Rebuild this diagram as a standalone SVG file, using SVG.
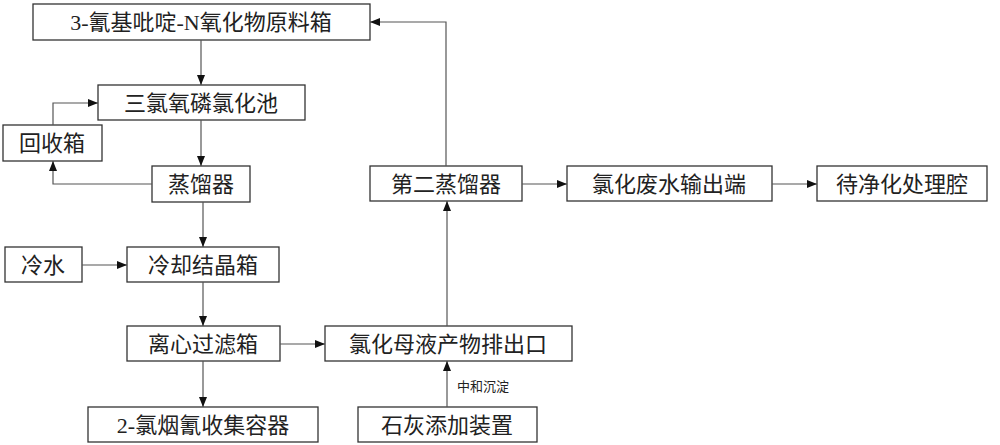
<svg xmlns="http://www.w3.org/2000/svg" width="1000" height="445" viewBox="0 0 1000 445">
<style>
.b{fill:#fff;stroke:#333;stroke-width:1.3}
.t{font-family:"Liberation Serif","Noto Sans CJK SC",serif;font-size:22px;fill:#222;text-anchor:middle;dominant-baseline:central}
.s{font-family:"Noto Sans CJK SC",sans-serif;font-size:13px;fill:#222}
.c{fill:none;stroke:#555;stroke-width:1.2;marker-end:url(#a)}
</style>
<defs><marker id="a" markerWidth="10" markerHeight="8" refX="10" refY="4" orient="auto" markerUnits="userSpaceOnUse"><path d="M0,0L10,4L0,8z" fill="#111"/></marker></defs>
<rect width="1000" height="445" fill="#fff"/>
<g id="n1"><rect class="b" x="33" y="4" width="337" height="36"/><text class="t" x="201" y="22">3-氰基吡啶-N氧化物原料箱</text></g>
<g id="n2"><rect class="b" x="98" y="85" width="207" height="35"/><text class="t" x="201" y="103">三氯氧磷氯化池</text></g>
<g id="n3"><rect class="b" x="3" y="125" width="99" height="36"/><text class="t" x="52" y="143">回收箱</text></g>
<g id="n4"><rect class="b" x="152" y="166" width="98" height="36"/><text class="t" x="201" y="184">蒸馏器</text></g>
<g id="n5"><rect class="b" x="5" y="247" width="77" height="35"/><text class="t" x="43" y="265">冷水</text></g>
<g id="n6"><rect class="b" x="127" y="247" width="152" height="35"/><text class="t" x="203" y="265">冷却结晶箱</text></g>
<g id="n7"><rect class="b" x="127" y="326" width="153" height="35"/><text class="t" x="203" y="344">离心过滤箱</text></g>
<g id="n8"><rect class="b" x="88" y="407" width="230" height="35"/><text class="t" x="203" y="425">2-氯烟氰收集容器</text></g>
<g id="n9"><rect class="b" x="325" y="326" width="247" height="35"/><text class="t" x="448" y="344">氯化母液产物排出口</text></g>
<g id="n10"><rect class="b" x="358" y="407" width="179" height="35"/><text class="t" x="447" y="425">石灰添加装置</text></g>
<g id="n11"><rect class="b" x="370" y="166" width="152" height="35"/><text class="t" x="446" y="184">第二蒸馏器</text></g>
<g id="n12"><rect class="b" x="567" y="166" width="205" height="35"/><text class="t" x="669" y="184">氯化废水输出端</text></g>
<g id="n13"><rect class="b" x="817" y="166" width="170" height="35"/><text class="t" x="902" y="184">待净化处理腔</text></g>
<g id="connectors">
<path class="c" d="M201,40V85"/>
<path class="c" d="M201,120V166"/>
<path class="c" d="M152,184H53V161"/>
<path class="c" d="M53,125V103H98"/>
<path class="c" d="M203,202V247"/>
<path class="c" d="M82,265H127"/>
<path class="c" d="M203,282V326"/>
<path class="c" d="M203,361V407"/>
<path class="c" d="M280,344H325"/>
<path class="c" d="M447,407V361"/>
<path class="c" d="M447,326V201"/>
<path class="c" d="M446,166V22H370"/>
<path class="c" d="M522,184H567"/>
<path class="c" d="M772,184H817"/>
</g>
<text class="s" x="457" y="391">中和沉淀</text>
</svg>
